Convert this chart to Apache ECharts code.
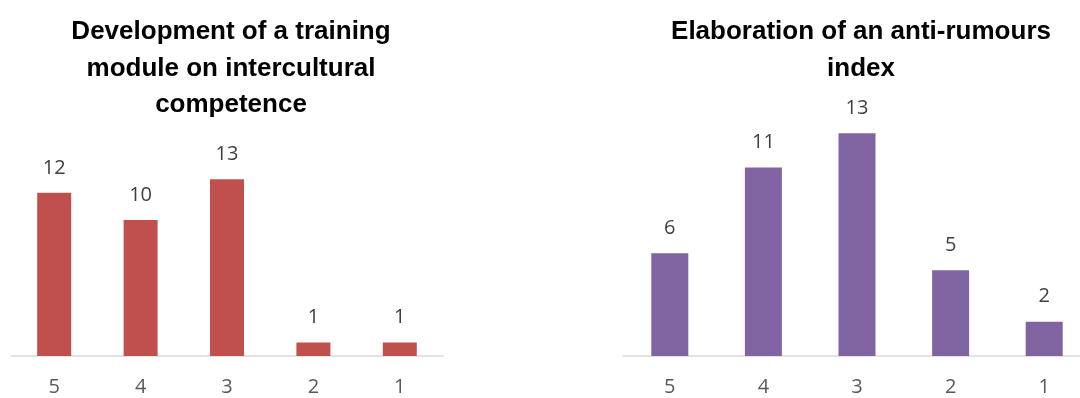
<!DOCTYPE html>
<html>
<head>
<meta charset="utf-8">
<style>
  html, body { margin: 0; padding: 0; background: #ffffff; overflow: hidden; }
  body { width: 1080px; height: 398px; }
  /* the right-hand axis runs slightly past the page edge */
  #chart { width: 1091px; height: 398px; }
</style>
<script src="https://cdn.jsdelivr.net/npm/echarts@6/dist/echarts.min.js"></script>
</head>
<body>
<div id="chart"></div>
<script>
// Ratings, from 5 (highest) down to 1
const categories = ['5', '4', '3', '2', '1'];
const trainingModuleCounts = [12, 10, 13, 1, 1];
const antiRumoursCounts = [6, 11, 13, 5, 2];
const titleLeft = 'Development of a training\nmodule on intercultural\ncompetence';
const titleRight = 'Elaboration of an anti-rumours\nindex';

const chart = echarts.init(document.getElementById('chart'), null, { renderer: 'canvas' });

const titleStyle = {
  fontFamily: 'Liberation Sans, Arial, sans-serif',
  fontWeight: 'bold',
  fontSize: 26,
  lineHeight: 36.5,
  color: '#000000'
};

const labelFont = 'Open Sans, Noto Sans, sans-serif';

function xAxisFor(gridIndex) {
  return {
    type: 'category',
    gridIndex,
    data: categories,
    axisLine: { show: true, lineStyle: { color: '#d9d9d9', width: 1.5 } },
    axisTick: { show: false },
    axisLabel: { color: '#595959', fontSize: 20, fontFamily: labelFont, margin: 21 }
  };
}

function yAxisFor(gridIndex, max) {
  return {
    type: 'value',
    gridIndex,
    min: 0,
    max,
    show: false,
    splitLine: { show: false }
  };
}

function barSeries(idx, data, color, width) {
  return {
    type: 'bar',
    xAxisIndex: idx,
    yAxisIndex: idx,
    data,
    barWidth: width,
    itemStyle: { color },
    label: {
      show: true,
      position: 'top',
      distance: 15,
      color: '#404040',
      fontSize: 20,
      fontFamily: labelFont
    }
  };
}

chart.setOption({
  animation: false,
  backgroundColor: '#ffffff',
  title: [
    { text: titleLeft, left: 226, top: 9, textAlign: 'center', textStyle: titleStyle },
    { text: titleRight, left: 856, top: 9, textAlign: 'center', textStyle: titleStyle }
  ],
  grid: [
    { left: 11, top: 165.6, width: 432, height: 190.4 },
    { left: 623, top: 116, width: 468, height: 240 }
  ],
  xAxis: [xAxisFor(0), xAxisFor(1)],
  yAxis: [yAxisFor(0, 14), yAxisFor(1, 14)],
  series: [
    barSeries(0, trainingModuleCounts, '#c0504d', 34),
    barSeries(1, antiRumoursCounts, '#8064a2', 37)
  ]
});
</script>
</body>
</html>
